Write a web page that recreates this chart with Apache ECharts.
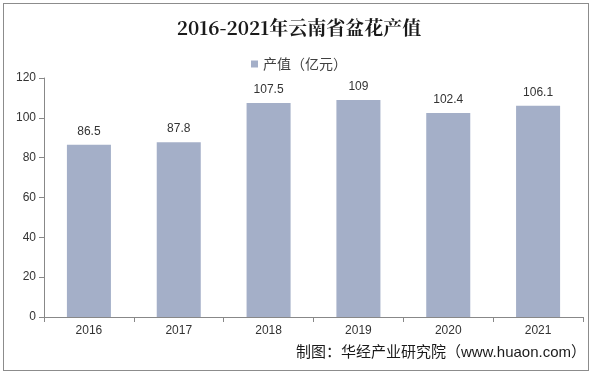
<!DOCTYPE html>
<html><head><meta charset="utf-8">
<script src="https://cdn.jsdelivr.net/npm/echarts@6/dist/echarts.min.js"></script>
<style>html,body{margin:0;padding:0;background:#fff}#c{width:598px;height:377px}
#frame{position:absolute;left:3px;top:3px;width:586px;height:368px;border:1px solid #8c8c8c;box-sizing:border-box;pointer-events:none}</style>
</head><body><div id="c"></div><div id="frame"></div>
<script>
const categories = ['2016','2017','2018','2019','2020','2021'];
const values = [86.5, 87.8, 107.5, 109, 102.4, 106.1];
const yTicks = [0, 20, 40, 60, 80, 100, 120];
const titleText = '2016-2021年云南省盆花产值';
const seriesName = '产值（亿元）';
const sourceText = '制图：华经产业研究院（www.huaon.com）';

const chart = echarts.init(document.getElementById('c'), null, {renderer:'canvas'});
chart.setOption({
  animation:false,
  backgroundColor:'#fff',
  title:{text:titleText,left:'center',top:13,textStyle:{fontFamily:'"Noto Serif CJK SC","Liberation Serif","Noto Sans CJK SC",serif',fontSize:19,fontWeight:'bold',color:'#1a1a1a'}},
  legend:{data:[seriesName],top:52,left:'center',itemWidth:7,itemHeight:7,icon:'rect',itemGap:4,textStyle:{fontFamily:'"Noto Sans CJK SC",sans-serif',fontSize:14,color:'#404040'}},
  graphic:[{type:'text',right:12,top:345,style:{text:sourceText,fontFamily:'"Liberation Sans","Noto Sans CJK SC",sans-serif',fontSize:15,fill:'#1a1a1a'}}],
  grid:{left:44,right:15,top:78,bottom:60,containLabel:false},
  xAxis:{type:'category',data:categories,boundaryGap:true,
    axisLine:{lineStyle:{color:'#888'}},
    axisTick:{show:true,alignWithLabel:false,length:5,lineStyle:{color:'#888'}},
    axisLabel:{color:'#333',fontFamily:'"Liberation Sans",Arial,sans-serif',fontSize:12,margin:8}},
  yAxis:{type:'value',min:0,max:120,interval:20,
    axisLine:{show:true,lineStyle:{color:'#888'}},
    axisTick:{show:true,length:5,lineStyle:{color:'#888'}},
    splitLine:{show:false},
    axisLabel:{color:'#333',fontFamily:'"Liberation Sans",Arial,sans-serif',fontSize:12,margin:8,
      formatter:v=>yTicks.includes(v)?String(v):''}},
  series:[{name:seriesName,type:'bar',data:values,barWidth:'49%',
    itemStyle:{color:'#A4AFC8'},
    label:{show:true,position:'top',distance:7,color:'#333',fontFamily:'"Liberation Sans",Arial,sans-serif',fontSize:12}}]
});
</script></body></html>
